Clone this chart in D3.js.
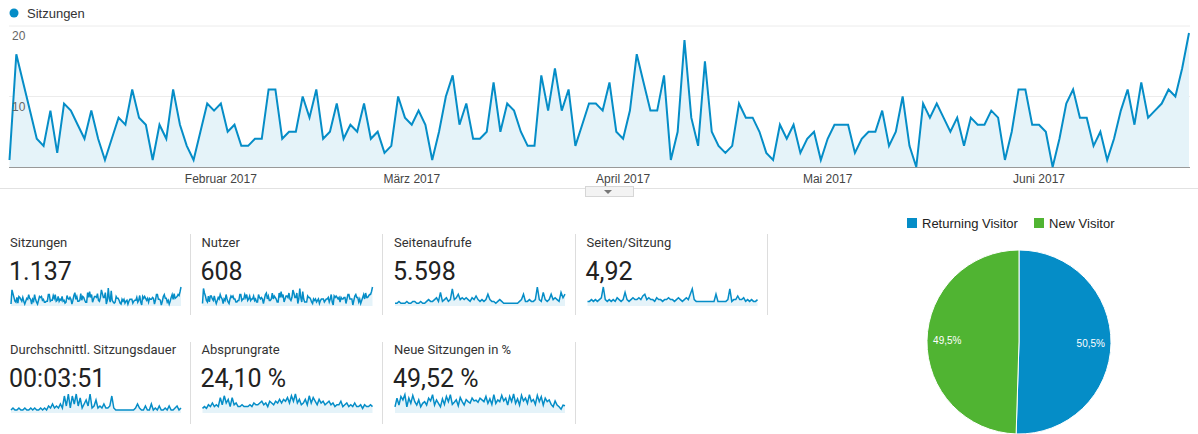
<!DOCTYPE html>
<html>
<head>
<meta charset="utf-8">
<script src="https://cdn.jsdelivr.net/npm/d3@7"></script>
<style>
  body { margin: 0; background: #fff; }
  svg { display: block; }
  .card-title { font-family: Roboto, "Liberation Sans", Arial, sans-serif; font-size: 13px; fill: #333; }
  .card-value { font-family: Roboto, "Liberation Sans", Arial, sans-serif; font-size: 25px; fill: #222; }
  .axis-label { font-family: "Liberation Sans", Arial, sans-serif; font-size: 12px; fill: #444; }
</style>
</head>
<body>
<div id="chart"></div>
<script>
// Google Analytics overview: sessions per day, Jan 1 - Jun 23 2017

// daily sessions (Sitzungen)
const sessions = [
  1,16,12,8,4,3,8,2,9,8, 6,4,8,4,1,4,7,6,11,7, 6,1,6,4,11,6,3,1,5,9,
  8,9,5,6,3,3,4,4,11,11, 4,5,5,10,7,11,4,5,9,4, 6,5,9,4,5,2,3,10,7,6,
  8,6,1,5,10,13,6,9,4,4, 5,12,5,9,8,5,3,3,13,8, 14,8,11,3,6,9,9,8,12,5,
  4,8,16,12,8,8,13,1,5,18, 7,3,15,5,3,2,3,9,7,7, 5,2,1,6,4,6,2,4,5,1,
  4,6,6,6,2,4,5,5,8,3, 5,10,3,0,9,7,9,7,5,7, 3,7,6,6,8,7,1,5,11,11,
  6,6,5,0,4,9,11,7,7,3, 5,1,4,8,11,6,12,7,8,9, 11,10,14,19
];
const startDate = new Date(2017, 0, 1);
const monthTicks = [new Date(2017, 1, 1), new Date(2017, 2, 1), new Date(2017, 3, 1), new Date(2017, 4, 1), new Date(2017, 5, 1)];
const monthLabels = ["Februar 2017", "März 2017", "April 2017", "Mai 2017", "Juni 2017"];
const yTicks = [10, 20];

// scorecards
const cardTitles = ["Sitzungen", "Nutzer", "Seitenaufrufe", "Seiten/Sitzung",
                    "Durchschnittl. Sitzungsdauer", "Absprungrate", "Neue Sitzungen in %"];
const cardValues = ["1.137", "608", "5.598", "4,92", "00:03:51", "24,10 %", "49,52 %"];

// sparkline estimates
const sparkUsers = [
  1,11,8,6,3,2,6,2,6,6, 4,3,6,3,1,3,5,4,7,5, 4,1,4,3,7,4,2,1,4,6,
  5,6,4,4,2,2,3,3,7,7, 3,4,4,7,5,7,3,4,6,3, 4,4,6,3,4,2,2,7,5,4,
  5,4,1,4,7,8,4,6,3,3, 4,8,4,6,5,4,2,2,8,5, 9,5,7,2,4,6,6,5,8,4,
  3,5,10,8,5,5,8,1,4,11, 5,2,9,4,2,2,2,6,5,5, 4,2,1,4,3,4,2,3,4,1,
  3,4,4,4,2,3,4,4,5,2, 4,7,2,0,6,5,6,5,4,5, 2,5,4,4,5,5,1,4,7,7,
  4,4,4,0,3,6,7,5,5,2, 4,1,3,5,7,4,8,5,5,6, 7,7,9,12
];
const sparkPageviews = [1,1,2,1,1,1,2,1,1,2,2,1,1,2,1,1,2,3,2,2,3,4,2,7,2,3,4,2,3,9,3,4,6,3,4,3,4,3,2,4,3,5,3,2,3,2,3,6,3,2,2,1,2,3,2,1,1,1,1,1,1,1,1,2,3,6,2,2,3,2,2,3,10,3,2,7,3,2,3,6,3,4,3,2,7,4,6];
const sparkPagesPerSession = [2,2,3,2,3,2,3,4,10,3,2,3,2,3,2,4,3,2,3,7,3,2,3,4,3,3,4,3,5,6,3,4,3,3,2,4,3,3,2,3,3,4,3,3,2,3,4,3,2,3,4,3,6,9,3,2,2,2,2,2,2,2,2,2,2,6,2,2,2,2,2,3,9,2,3,3,5,3,3,4,2,3,2,3,2,2,3];
const sparkDuration = [1,2,1,1,2,1,1,2,1,1,2,1,2,1,1,2,1,2,1,3,2,4,2,3,2,4,2,8,3,9,2,8,4,9,3,7,2,4,6,3,9,2,3,6,2,3,2,4,2,2,3,8,2,1,1,1,1,1,1,1,1,1,1,2,4,2,1,1,3,1,1,4,1,2,1,3,1,1,2,1,3,1,1,2,3,1,2];
const sparkBounce = [2,3,2,4,3,5,3,4,3,8,4,9,5,7,3,8,4,5,3,3,4,3,3,3,4,3,5,4,4,5,6,4,5,3,6,5,4,6,5,7,5,7,6,8,5,9,6,10,5,7,4,5,7,4,9,5,8,6,4,7,5,6,4,5,6,4,5,3,4,4,6,3,4,5,3,4,3,5,3,3,4,2,4,3,3,4,3];
const sparkNewSessions = [55,80,60,85,75,90,55,80,65,88,70,60,75,55,65,70,60,80,72,90,60,75,65,55,78,62,85,70,90,62,68,75,58,82,70,60,76,70,66,80,72,74,68,80,75,70,85,65,78,62,90,65,75,70,88,72,80,60,85,70,92,65,78,60,88,72,80,65,90,70,76,62,88,70,84,60,80,70,75,62,55,72,60,55,48,60,58];

// pie
const visitorTypes = ["Returning Visitor", "New Visitor"];
const visitorShares = [50.5, 49.5];
const visitorLabels = ["50,5%", "49,5%"];

const width = 1198, height = 434;
const blue = "#058dc7", green = "#50b432", areaFill = "#e5f3f9";

const svg = d3.select("#chart").append("svg")
    .attr("width", width).attr("height", height);

// ---- top legend
svg.append("circle").attr("cx", 14).attr("cy", 13).attr("r", 4.5).attr("fill", blue);
svg.append("text").attr("x", 27).attr("y", 17.5)
    .attr("font-family", "'Liberation Sans', Arial, sans-serif").attr("font-size", 13).attr("fill", "#333")
    .text("Sitzungen");

// ---- main line chart
const dates = sessions.map((d, i) => d3.timeDay.offset(startDate, i));
const x = d3.scaleTime().domain([dates[0], dates[dates.length - 1]]).range([9.5, 1189]);
const y = d3.scaleLinear().domain([0, 20]).range([167, 26]);

const grid = svg.append("g");
grid.selectAll("line").data(yTicks).join("line")
    .attr("x1", 9).attr("x2", 1190)
    .attr("y1", d => y(d)).attr("y2", d => y(d))
    .attr("stroke", "#ececec");

svg.append("path").datum(sessions)
    .attr("fill", areaFill)
    .attr("d", d3.area().x((d, i) => x(dates[i])).y0(y(0)).y1(d => y(d)));

svg.append("line").attr("x1", 9).attr("x2", 1190).attr("y1", y(0) + 0.5).attr("y2", y(0) + 0.5)
    .attr("stroke", "#999");

svg.append("path").datum(sessions)
    .attr("fill", "none").attr("stroke", blue).attr("stroke-width", 2)
    .attr("stroke-linejoin", "miter")
    .attr("d", d3.line().x((d, i) => x(dates[i])).y(d => y(d)));

svg.append("g").selectAll("text").data(yTicks).join("text")
    .attr("x", 12).attr("y", d => y(d) + 14)
    .attr("font-family", "'Liberation Sans', Arial, sans-serif").attr("font-size", 12).attr("fill", "#666")
    .text(d => d);

svg.append("g").selectAll("text").data(monthTicks).join("text")
    .attr("class", "axis-label")
    .attr("x", d => x(d)).attr("y", 183)
    .attr("text-anchor", "middle")
    .text((d, i) => monthLabels[i]);

// divider under the chart with the small collapse tab
svg.append("line").attr("x1", 0).attr("x2", 1198).attr("y1", 188.5).attr("y2", 188.5).attr("stroke", "#e2e2e2");
svg.append("rect").attr("x", 585.5).attr("y", 186.5).attr("width", 48).attr("height", 10)
    .attr("fill", "#f3f3f3").attr("stroke", "#d6d6d6");
svg.append("path").attr("d", "M604,190 L612,190 L608,194 Z").attr("fill", "#777");

// ---- scorecards
const cards = [
  { col: 0, row: 0, data: sessions, lo: 0 },
  { col: 1, row: 0, data: sparkUsers, lo: 0 },
  { col: 2, row: 0, data: sparkPageviews, lo: 0 },
  { col: 3, row: 0, data: sparkPagesPerSession, lo: 0 },
  { col: 0, row: 1, data: sparkDuration, lo: 0 },
  { col: 1, row: 1, data: sparkBounce, lo: 0 },
  { col: 2, row: 1, data: sparkNewSessions, lo: 40 }
];
const colX = [10, 201.5, 394, 586.5];
const rowY = [234, 341];
const sepX = [190.5, 382.5, 575.5, 767.5];

cards.forEach((c, k) => {
  const g = svg.append("g").attr("transform", `translate(${colX[c.col]},${rowY[c.row]})`);
  g.append("text").attr("class", "card-title").attr("x", 0).attr("y", 13).text(cardTitles[k]);
  g.append("text").attr("class", "card-value").attr("x", -1).attr("y", 46).text(cardValues[k]);

  const sx = d3.scaleLinear().domain([0, c.data.length - 1]).range([1, 171]);
  const sy = d3.scaleLinear().domain([c.lo, d3.max(c.data)]).range([71, 53]);
  g.append("path").datum(c.data).attr("fill", areaFill)
      .attr("d", d3.area().x((d, i) => sx(i)).y0(72).y1(d => sy(d)));
  g.append("path").datum(c.data).attr("fill", "none").attr("stroke", blue).attr("stroke-width", 1.5)
      .attr("d", d3.line().x((d, i) => sx(i)).y(d => sy(d)));
});

// separators between cards
sepX.forEach((sx, i) => {
  svg.append("line").attr("x1", sx).attr("x2", sx).attr("y1", 234).attr("y2", 315).attr("stroke", "#ddd");
  if (i < 3) svg.append("line").attr("x1", sx).attr("x2", sx).attr("y1", 342).attr("y2", 424).attr("stroke", "#ddd");
});

// ---- pie
const pieColors = [blue, green];
const legend = svg.append("g").attr("font-family", "'Liberation Sans', Arial, sans-serif").attr("font-size", 13);
const legendX = [907, 1034];
visitorTypes.forEach((t, i) => {
  legend.append("rect").attr("x", legendX[i]).attr("y", 218).attr("width", 10).attr("height", 10).attr("fill", pieColors[i]);
  legend.append("text").attr("x", legendX[i] + 15).attr("y", 227.5).attr("fill", "#222").text(t);
});

const r = 92;
const pg = svg.append("g").attr("transform", "translate(1019,342)");
const arcs = d3.pie().sort(null)(visitorShares);
const arc = d3.arc().innerRadius(0).outerRadius(r);
const labelArc = d3.arc().innerRadius(r * 0.78).outerRadius(r * 0.78);
pg.selectAll("path").data(arcs).join("path")
    .attr("d", arc).attr("fill", (d, i) => pieColors[i])
    .attr("stroke", "#fff").attr("stroke-width", 1);
pg.selectAll("text").data(arcs).join("text")
    .attr("transform", d => `translate(${labelArc.centroid(d)})`)
    .attr("text-anchor", "middle").attr("dy", "0.35em")
    .attr("font-family", "'Liberation Sans', Arial, sans-serif").attr("font-size", 10).attr("fill", "#fff")
    .text((d, i) => visitorLabels[i]);
</script>
</body>
</html>
